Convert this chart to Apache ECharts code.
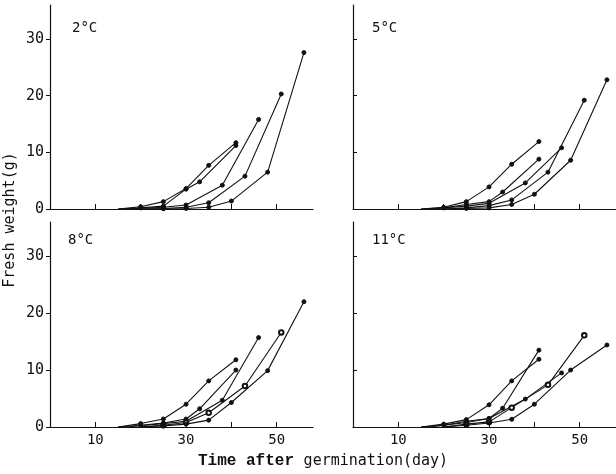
<!DOCTYPE html>
<html>
<head>
<meta charset="utf-8">
<script src="https://cdn.jsdelivr.net/npm/echarts@6/dist/echarts.min.js"></script>
<style>html,body{margin:0;padding:0;background:#fff;}#c{width:616px;height:474px;}</style>
</head>
<body>
<div id="c"></div>
<script>
// sampling days for the five sowing groups
var daysA = [15, 20, 25, 30, 35, 41];
var daysB = [15, 20, 25, 30, 33, 41];
var daysC = [17, 25, 30, 38, 46];
var daysD = [20, 25, 30, 35, 43, 51];
var daysE = [20, 25, 30, 35, 40, 48, 56];

// fresh weight (g) per panel
var w2A = [0, 0.4, 1.3, 3.6, 7.7, 11.7];
var w2B = [0, 0.2, 0.5, 3.5, 4.8, 11.2];
var w2C = [0, 0.3, 0.7, 4.2, 15.8];
var w2D = [0, 0.1, 0.3, 1.1, 5.8, 20.3];
var w2E = [0, 0.05, 0.1, 0.3, 1.4, 6.5, 27.6];

var w5A = [0, 0.3, 1.3, 3.9, 7.9, 11.9];
var w5B = [0, 0.2, 0.8, 1.3, 3.0, 8.8];
var w5C = [0, 0.5, 1.0, 4.6, 10.8];
var w5D = [0, 0.2, 0.6, 1.6, 6.5, 19.2];
var w5E = [0, 0.1, 0.2, 0.8, 2.6, 8.6, 22.8];

var w8A = [0, 0.6, 1.4, 4.0, 8.1, 11.8];
var w8B = [0, 0.3, 0.7, 1.4, 3.2, 10.0];
var w8C = [0, 0.6, 1.0, 4.7, 15.7];
var w8D = [0, 0.3, 0.8, 2.5, 7.2, 16.6];
var w8E = [0, 0.2, 0.5, 1.2, 4.3, 9.9, 22.0];

var w11A = [0, 0.5, 1.3, 3.9, 8.1, 11.9];
var w11B = [0, 0.3, 1.0, 1.5, 3.3, 13.5];
var w11C = [0, 0.8, 1.5, 4.9, 9.5];
var w11D = [0, 0.5, 0.9, 3.4, 7.4, 16.1];
var w11E = [0, 0.3, 0.7, 1.35, 4.0, 10.0, 14.4];

var panelTitles = ['2°C', '5°C', '8°C', '11°C'];
var yTicks = [0, 10, 20, 30];
var xTicks = [10, 20, 30, 40, 50];
var xLabels = [10, 30, 50];

var daysList = [daysA, daysB, daysC, daysD, daysE];
var panels = [
  [w2A, w2B, w2C, w2D, w2E],
  [w5A, w5B, w5C, w5D, w5E],
  [w8A, w8B, w8C, w8D, w8E],
  [w11A, w11B, w11C, w11D, w11E]
];
var openSeries = [[], [], [3], [3]];

function zip(a, b) { return a.map(function (d, i) { return [d, b[i]]; }); }

var gridPos = [
  {left: 50, top: 5, width: 263, height: 204},
  {left: 353, top: 5, width: 263, height: 204},
  {left: 50, top: 222, width: 263, height: 205},
  {left: 353, top: 222, width: 263, height: 205}
];
var titlePos = [[72, 21], [372, 21], [68, 233], [372, 233]];
var mono = '"DejaVu Sans Mono", monospace';
var ink = '#111';

var grids = [], xAxes = [], yAxes = [], series = [], titles = [];
for (var p = 0; p < 4; p++) {
  grids.push(gridPos[p]);
  var bottom = p >= 2, left = (p % 2 === 0);
  xAxes.push({
    type: 'value', gridIndex: p, min: 0, max: 58,
    axisLine: {lineStyle: {color: ink, width: 1.2}},
    axisTick: {show: true, inside: true, length: 5, customValues: xTicks, lineStyle: {color: ink}},
    axisLabel: {show: bottom, customValues: xLabels, margin: 6, color: ink, fontFamily: mono, fontSize: 14},
    splitLine: {show: false}
  });
  yAxes.push({
    type: 'value', gridIndex: p, min: 0, max: 36,
    axisLine: {show: true, lineStyle: {color: ink, width: 1.2}},
    axisTick: {show: true, inside: !left, length: 4, customValues: yTicks, lineStyle: {color: ink}},
    axisLabel: {show: left, customValues: yTicks, margin: 6, color: ink, fontFamily: mono, fontSize: 15},
    splitLine: {show: false}
  });
  titles.push({
    text: panelTitles[p], left: titlePos[p][0], top: titlePos[p][1],
    textStyle: {fontFamily: mono, fontSize: 14, fontWeight: 'normal', color: ink}, padding: 0
  });
  for (var s = 0; s < 5; s++) {
    var open = openSeries[p].indexOf(s) >= 0;
    series.push({
      type: 'line', xAxisIndex: p, yAxisIndex: p,
      data: zip(daysList[s], panels[p][s]),
      symbol: open ? 'emptyCircle' : 'circle',
      symbolSize: (function (o) {
        return function (v) { return v[1] === 0 ? 0 : (o ? 4.5 : 4); };
      })(open),
      lineStyle: {color: ink, width: 1.1},
      itemStyle: {color: ink, borderColor: ink, borderWidth: open ? 0.9 : 1},
      silent: true, animation: false, z: 3
    });
  }
}

var chart = echarts.init(document.getElementById('c'), null, {renderer: 'canvas'});
chart.setOption({
  backgroundColor: '#fff',
  animation: false,
  title: titles,
  grid: grids,
  xAxis: xAxes,
  yAxis: yAxes,
  series: series,
  graphic: [
    {
      type: 'text', x: 10, y: 220, rotation: Math.PI / 2,
      style: {text: 'Fresh weight(g)', font: '15px "DejaVu Sans Mono"', fill: ink,
              textAlign: 'center', textVerticalAlign: 'middle'}
    },
    {
      type: 'text', left: 198, top: 453,
      style: {
        text: '{a|Time after }{b|germination(day)}',
        rich: {
          a: {fontFamily: '"Liberation Mono"', fontWeight: 'bold', fontSize: 16, fill: ink},
          b: {fontFamily: mono, fontSize: 15, fill: ink}
        }
      }
    }
  ]
});
</script>
</body>
</html>
